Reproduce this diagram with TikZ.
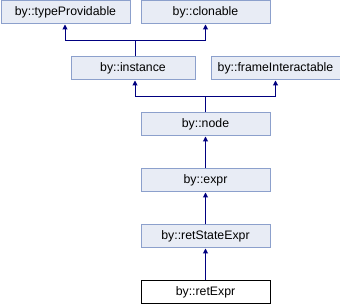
\documentclass[tikz,border=0pt]{standalone}
\usepackage{fontspec}
\setmainfont{Liberation Sans}
\usetikzlibrary{arrows.meta}
\definecolor{boxfill}{HTML}{E8ECF5}
\definecolor{boxdraw}{HTML}{8CA0CC}
\definecolor{edge}{HTML}{000080}
\begin{document}
\begin{tikzpicture}[x=1pt,y=-1pt,
  cls/.style={draw=boxdraw,fill=boxfill,line width=1pt,minimum width=129pt,minimum height=23pt,inner sep=0pt,font=\fontsize{12.3}{13}\selectfont,anchor=north west},
  cur/.style={cls,draw=black,fill=white},
  inh/.style={draw=edge,line width=1pt,-{Triangle[width=5pt,length=5pt]}}]
\useasboundingbox (0,0) rectangle (340,304);
\node[cls] (tp) at (0.5,0.5) {by::typeProvidable};
\node[cls] (cl) at (140.5,0.5) {by::clonable};
\node[cls,minimum width=124pt] (in) at (70.5,56.5) {by::instance};
\node[cls] (fi) at (210.5,56.5) {by::frameInteractable};
\node[cls] (no) at (140.5,112.5) {by::node};
\node[cls] (ex) at (140.5,168.5) {by::expr};
\node[cls] (rs) at (140.5,224.5) {by::retStateExpr};
\node[cur] (re) at (140.5,280.5) {by::retExpr};
\coordinate (j1) at (135,40.5);
\coordinate (j2) at (205,96.5);
\draw[inh] (in.north -| j1) -- (j1) -| ([xshift=-0.5pt]tp.south);
\draw[inh] (j1) -| ([xshift=0pt]cl.south);
\draw[inh] (no.north -| j2) -- (j2) -| (j1 |- in.south);
\draw[inh] (j2) -| (fi.south);
\draw[inh] (re.north) -- (rs.south);
\draw[inh] (rs.north) -- (ex.south);
\draw[inh] (ex.north) -- (no.south);
\end{tikzpicture}
\end{document}
